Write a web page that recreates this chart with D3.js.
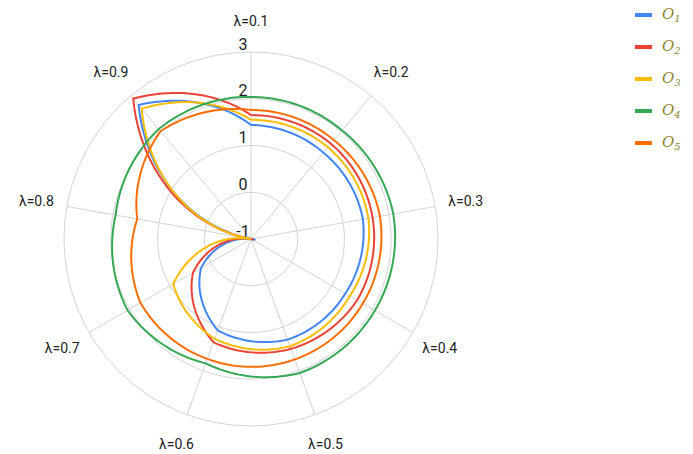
<!DOCTYPE html>
<html>
<head>
<meta charset="utf-8">
<script src="https://cdn.jsdelivr.net/npm/d3@7"></script>
<style>
  html, body { margin: 0; padding: 0; background: #fff; }
  svg { display: block; }
</style>
</head>
<body>
<svg id="chart" width="693" height="454"></svg>
<script>
// ---- data ----
const categories = ["λ=0.1", "λ=0.2", "λ=0.3", "λ=0.4", "λ=0.5", "λ=0.6", "λ=0.7", "λ=0.8", "λ=0.9"];
const seriesNames = ["o", "o", "o", "o", "o"];
const seriesSubs = ["1", "2", "3", "4", "5"];
const o1 = [1.44, 1.41, 1.43, 1.33, 1.29, 1.08, 0.23, -1.1, 2.74];
const o2 = [1.65, 1.66, 1.64, 1.62, 1.50, 1.35, 0.43, -1.05, 2.92];
const o3 = [1.55, 1.56, 1.55, 1.44, 1.44, 1.27, 0.92, -1.0, 2.64];
const o4 = [2.04, 2.03, 2.09, 2.06, 2.05, 1.83, 2.05, 1.94, 2.07];
const o5 = [1.76, 1.76, 1.80, 1.76, 1.74, 1.73, 1.73, 1.47, 2.01];
const seriesValues = [o1, o2, o3, o4, o5];
const colors = ["#4285F4", "#EA4335", "#FBBC04", "#34A853", "#FF6D01"];
const radialTicks = [-1, 0, 1, 2, 3];

// ---- layout ----
const cx = 251, cy = 239, R = 187;
const svg = d3.select("#chart");
const g = svg.append("g").attr("transform", `translate(${cx},${cy})`);

const angle = d3.scalePoint().domain(categories).range([0, 2 * Math.PI * (categories.length - 1) / categories.length]);
const r = d3.scaleLinear().domain([-1, 3]).range([0, R]);

// grid circles
g.selectAll("circle.grid").data(radialTicks.filter(t => t > -1)).join("circle")
  .attr("class", "grid").attr("r", d => r(d))
  .attr("fill", "none").attr("stroke", "#d4d4d4").attr("stroke-width", 1);

// spokes
g.selectAll("line.spoke").data(categories).join("line")
  .attr("x1", 0).attr("y1", 0)
  .attr("x2", d => R * Math.sin(angle(d)))
  .attr("y2", d => -R * Math.cos(angle(d)))
  .attr("stroke", "#d4d4d4").attr("stroke-width", 1);

// category labels
const LR = 218;
g.selectAll("text.cat").data(categories).join("text")
  .attr("x", d => LR * Math.sin(angle(d)))
  .attr("y", d => -LR * Math.cos(angle(d)))
  .attr("text-anchor", "middle").attr("dominant-baseline", "central")
  .attr("font-family", "Roboto, sans-serif").attr("font-size", 14)
  .attr("fill", "#222").text(d => d);

// radial tick labels
g.selectAll("text.tick").data(radialTicks).join("text")
  .attr("x", -8).attr("y", d => -r(d) - 8)
  .attr("text-anchor", "middle").attr("dominant-baseline", "central")
  .attr("font-family", "Roboto, sans-serif").attr("font-size", 16)
  .attr("fill", "#222").text(d => d);

// series lines, drawn in polar space (radius varies linearly with angle between spokes)
const step = 2 * Math.PI / categories.length;
const line = d3.lineRadial().angle(p => p[0]).radius(p => p[1]);
function polarPath(vals) {
  const pts = [];
  const n = vals.length, sub = 24;
  for (let i = 0; i < n; i++) {
    const a0 = angle(categories[i]);
    const r0 = r(vals[i]), r1 = r(vals[(i + 1) % n]);
    for (let k = 0; k < sub; k++) {
      const t = k / sub;
      pts.push([a0 + t * step, r0 + t * (r1 - r0)]);
    }
  }
  pts.push([angle(categories[0]) + 2 * Math.PI, r(vals[0])]);
  return line(pts);
}
g.selectAll("path.series").data(seriesValues).join("path")
  .attr("d", d => polarPath(d))
  .attr("fill", "none")
  .attr("stroke", (d, i) => colors[i])
  .attr("stroke-width", 2)
  .attr("stroke-linejoin", "miter");

// legend
const leg = svg.append("g").attr("transform", "translate(635,15)");
const items = leg.selectAll("g").data(seriesNames).join("g")
  .attr("transform", (d, i) => `translate(0,${i * 32})`);
items.append("line").attr("x1", 0).attr("x2", 17).attr("y1", 0).attr("y2", 0)
  .attr("stroke", (d, i) => colors[i]).attr("stroke-width", 4);
const txt = items.append("text").attr("x", 27).attr("y", 4)
  .attr("font-family", "'DejaVu Serif', 'Liberation Serif', serif")
  .attr("font-style", "italic").attr("font-size", 15).attr("fill", "#8f8330");
txt.append("tspan").text(d => d.toUpperCase());
txt.append("tspan").attr("font-size", 10).attr("dy", 3).text((d, i) => seriesSubs[i]);
</script>
</body>
</html>
